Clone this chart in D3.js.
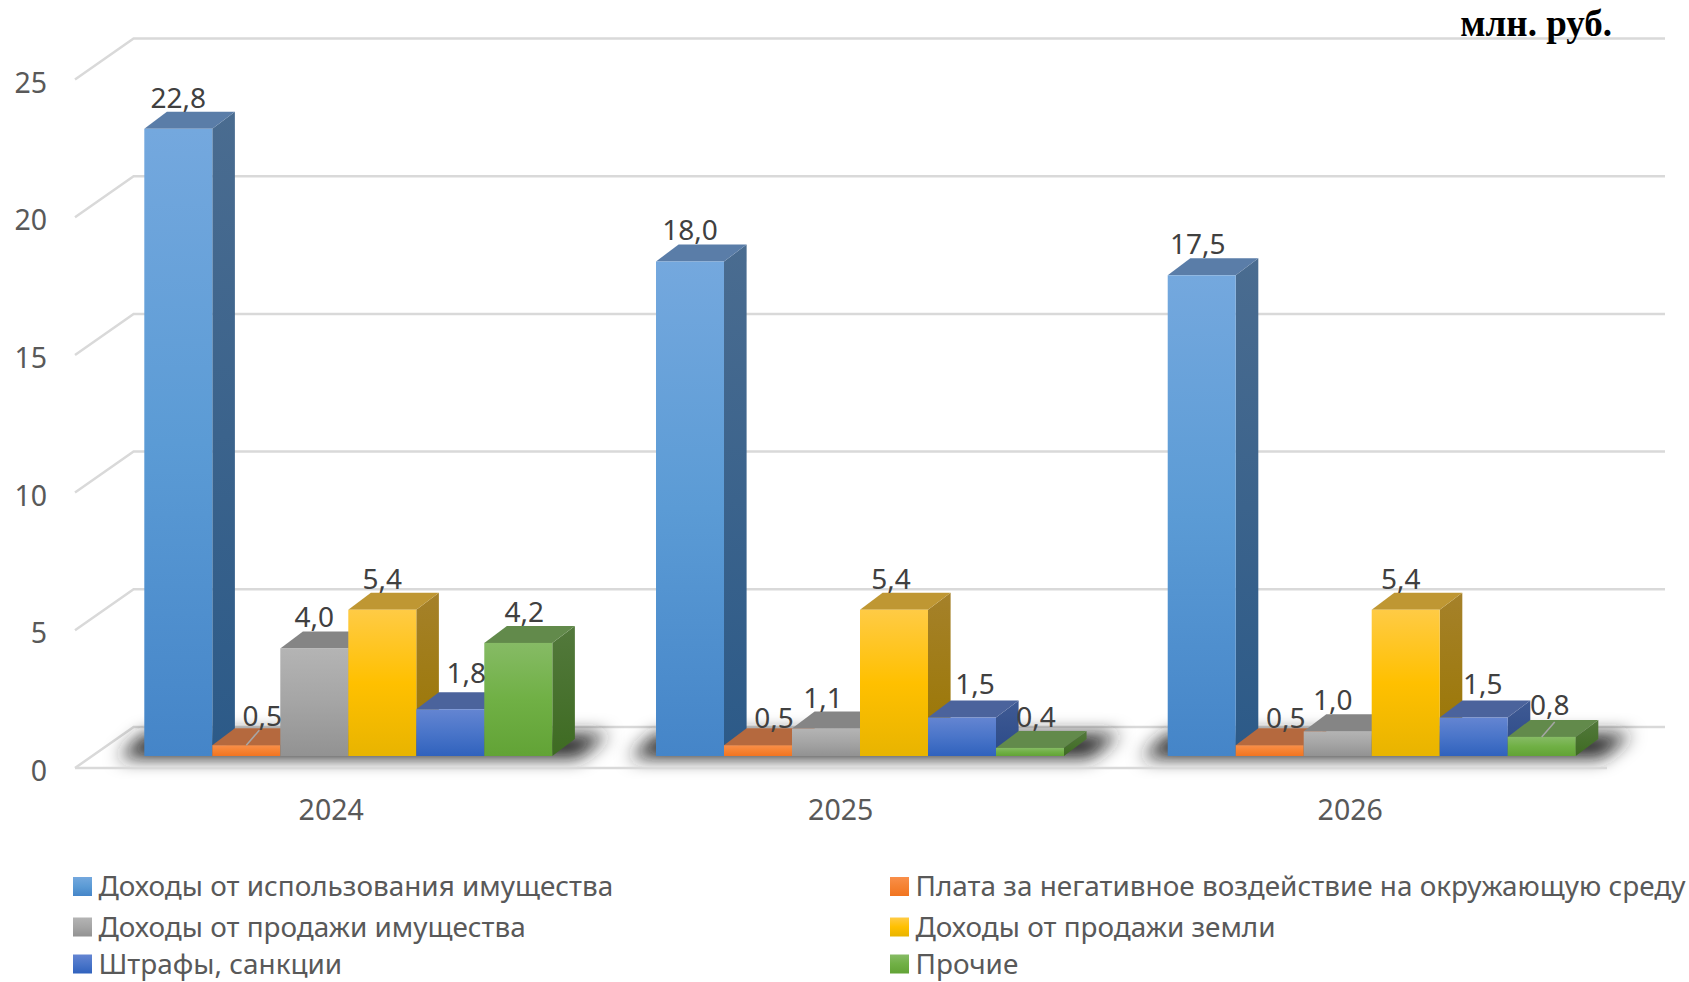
<!DOCTYPE html>
<html>
<head>
<meta charset="utf-8">
<script src="https://cdn.jsdelivr.net/npm/d3@7"></script>
<style>
  body { margin: 0; background: #fff; }
  text { font-family: "Noto Sans", sans-serif; }
</style>
</head>
<body>
<div id="chart"></div>
<script>
// Data
var years = ["2024", "2025", "2026"];
var seriesNames = [
    "Доходы от использования имущества",
    "Плата за негативное воздействие на окружающую среду",
    "Доходы от продажи имущества",
    "Доходы от продажи земли",
    "Штрафы, санкции",
    "Прочие"
];
var propertyUse = [22.8, 18.0, 17.5];
var envFee = [0.5, 0.5, 0.5];
var propertySale = [4.0, 1.1, 1.0];
var landSale = [5.4, 5.4, 5.4];
var fines = [1.8, 1.5, 1.5];
var other = [4.2, 0.4, 0.8];
var yTicks = [0, 5, 10, 15, 20, 25];
var allSeries = [propertyUse, envFee, propertySale, landSale, fines, other];

// face colours per series: gradient of the front, top, gradient of the side
var colors = [
    {front: ["#74a8de", "#5b9bd5", "#4585c8"], top: "#5a7da8", side: ["#4a6c90", "#2c5a88"]},
    {front: ["#f98f4a", "#f58232", "#f17420"], top: "#b5693e", side: ["#a85c30", "#8f4b20"]},
    {front: ["#b4b4b4", "#a5a5a5", "#929292"], top: "#858585", side: ["#7b7b7b", "#666666"]},
    {front: ["#ffcb45", "#ffc000", "#e8b400"], top: "#bf9733", side: ["#a5812a", "#9a7600"]},
    {front: ["#6485d2", "#4a75c9", "#3062bd"], top: "#4b639c", side: ["#3f5a94", "#2b4a88"]},
    {front: ["#86bb65", "#70b045", "#62a336"], top: "#628a4b", side: ["#53793c", "#3e6b22"]}
];

// label nudges [dx, dy] by series and year, so labels clear their neighbours
var labelNudge = [
    [[0, 0], [0, 0], [-4, 0]],
    [[16, 2], [16, 4], [16, 4]],
    [[0, 0], [-3, 0], [-5, 0]],
    [[0, 0], [-3, 0], [-5, 0]],
    [[16, -5], [13, -3], [9, -3]],
    [[6, 0], [6, 0], [8, -1]]
];
// labels which have a thin leader line: [series, year]
var leaders = [[1, 0], [5, 2]];

var width = 1689, height = 982;

// the three depth planes of the fake 3D chart
var barFloor = 756, wallFloor = 727, axisFloor = 768;
var depthX = 22.6, depthY = 17;
var wallDx = 58.6, axisLeft = 75;

var svg = d3.select("#chart").append("svg")
    .attr("width", width)
    .attr("height", height);

var defs = svg.append("defs");

// gradients
colors.forEach(function(c, i) {
    var g = defs.append("linearGradient").attr("id", "front" + i)
        .attr("x1", 0).attr("y1", 0).attr("x2", 0).attr("y2", 1);
    g.append("stop").attr("offset", "0%").attr("stop-color", c.front[0]);
    g.append("stop").attr("offset", "50%").attr("stop-color", c.front[1]);
    g.append("stop").attr("offset", "100%").attr("stop-color", c.front[2]);
    var s = defs.append("linearGradient").attr("id", "side" + i)
        .attr("x1", 0).attr("y1", 0).attr("x2", 0).attr("y2", 1);
    s.append("stop").attr("offset", "0%").attr("stop-color", c.side[0]);
    s.append("stop").attr("offset", "100%").attr("stop-color", c.side[1]);
});

defs.append("filter").attr("id", "blur")
    .attr("x", "-15%").attr("y", "-150%").attr("width", "130%").attr("height", "400%")
  .append("feGaussianBlur").attr("stdDeviation", 9);

// scales
var h = d3.scaleLinear().domain([0, 25]).range([688.5, 0]);
var barTop = d3.scaleLinear().domain([0, 25]).range([759, 68]);
var x0 = d3.scaleBand().domain(years).range([144.3, 1575.7]).paddingInner(0.2027);
var x1 = d3.scaleBand().domain(d3.range(seriesNames.length)).range([0, x0.bandwidth()]);
var xLabels = d3.scalePoint().domain(years).range([330.7, 1349.7]);

function wallY(v) { return h(v) + wallFloor - h(0); }
function frontY(v) { return h(v) + axisFloor - h(0); }

// gridlines on the wall and on the left side
var grid = svg.append("g").attr("stroke", "#d9d9d9").attr("stroke-width", 2.5).attr("fill", "none");
grid.selectAll("path").data(yTicks).enter().append("path")
    .attr("d", function(d) {
        return "M" + axisLeft + "," + frontY(d) +
            "L" + (axisLeft + wallDx) + "," + wallY(d) + "L1665," + wallY(d);
    });

// shadows under each group of bars
svg.append("g").selectAll("path").data(years).enter().append("path")
    .attr("d", function(d) {
        var a = x0(d), b = a + x0.bandwidth();
        return "M" + (a - 26) + "," + (barFloor + 2) + "L" + (b + 26) + "," + (barFloor + 2) +
            "L" + (b + 56) + "," + (barFloor - 22) +
            "L" + (a) + "," + (barFloor - 22) + "Z";
    })
    .attr("fill", "#222")
    .attr("filter", "url(#blur)");

// front edge of the floor stays above the shadow
svg.append("line")
    .attr("x1", axisLeft).attr("x2", 1607)
    .attr("y1", frontY(0)).attr("y2", frontY(0))
    .attr("stroke", "#d9d9d9")
    .attr("stroke-width", 2.5);

// bars, left to right so that each one covers the side of the one before
years.forEach(function(year, yi) {
    var g = svg.append("g").attr("class", "group");
    allSeries.forEach(function(values, si) {
        var v = values[yi];
        var left = x0(year) + x1(si);
        var w = x1.bandwidth();
        var top = barTop(v);
        g.append("polygon")
            .attr("points", [[left + w, top], [left + w + depthX, top - depthY],
                [left + w + depthX, barFloor - depthY], [left + w, barFloor]].join(" "))
            .attr("fill", "url(#side" + si + ")");
        g.append("polygon")
            .attr("points", [[left, top], [left + w, top],
                [left + w + depthX, top - depthY], [left + depthX, top - depthY]].join(" "))
            .attr("fill", colors[si].top);
        g.append("rect")
            .attr("x", left).attr("y", top)
            .attr("width", w).attr("height", barFloor - top)
            .attr("fill", "url(#front" + si + ")");
    });
});

// leader lines
svg.append("g").selectAll("line").data(leaders).enter().append("line")
    .attr("x1", function(d) { return x0(years[d[1]]) + x1(d[0]) + x1.bandwidth() / 2; })
    .attr("y1", function(d) { return barTop(allSeries[d[0]][d[1]]); })
    .attr("x2", function(d) { return x0(years[d[1]]) + x1(d[0]) + x1.bandwidth() / 2 + 13; })
    .attr("y2", function(d) { return barTop(allSeries[d[0]][d[1]]) - 15; })
    .attr("stroke", "#a6a6a6")
    .attr("stroke-width", 1.5);

// value labels
var fmt = d3.format(".1f");
years.forEach(function(year, yi) {
    allSeries.forEach(function(values, si) {
        var v = values[yi];
        svg.append("text")
            .attr("x", x0(year) + x1(si) + x1.bandwidth() / 2 + labelNudge[si][yi][0])
            .attr("y", barTop(v) - depthY - 4 + labelNudge[si][yi][1])
            .attr("text-anchor", "middle")
            .attr("font-size", 28)
            .attr("fill", "#404040")
            .text(fmt(v).replace(".", ","));
    });
});

// axes
var yAxis = svg.append("g")
    .attr("transform", "translate(" + (axisLeft - 11) + "," + (axisFloor - h(0) + 3.5) + ")")
    .call(d3.axisLeft(h).tickValues(yTicks).tickSize(0).tickPadding(17));
var xAxis = svg.append("g")
    .attr("transform", "translate(0," + axisFloor + ")")
    .call(d3.axisBottom(xLabels).tickSize(0).tickPadding(32));
[yAxis, xAxis].forEach(function(a) {
    a.select(".domain").remove();
    a.selectAll("text")
        .attr("font-size", 28.5)
        .attr("font-family", "Noto Sans")
        .attr("fill", "#595959");
});

// legend, two columns and three rows
var legendX = [73, 890], legendY = [886.5, 927, 964];
var legend = svg.append("g").selectAll("g").data(seriesNames).enter().append("g")
    .attr("transform", function(d, i) {
        return "translate(" + legendX[i % 2] + "," + legendY[Math.floor(i / 2)] + ")";
    });
legend.append("rect")
    .attr("x", 0).attr("y", -9.5)
    .attr("width", 19).attr("height", 19)
    .attr("fill", function(d, i) { return "url(#front" + i + ")"; });
legend.append("text")
    .attr("x", 25.5)
    .attr("dy", "0.35em")
    .attr("font-size", 27.9)
    .attr("fill", "#595959")
    .text(function(d) { return d; });

// units
svg.append("text")
    .attr("x", 1612).attr("y", 36)
    .attr("text-anchor", "end")
    .attr("font-size", 37)
    .attr("font-weight", "bold")
    .attr("fill", "#000")
    .style("font-family", "'Liberation Serif', serif")
    .text("млн. руб.");
</script>
</body>
</html>
